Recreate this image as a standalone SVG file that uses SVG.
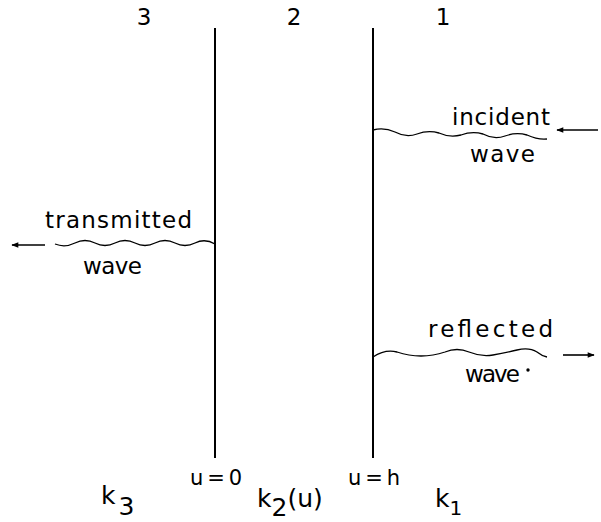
<svg xmlns="http://www.w3.org/2000/svg" width="601" height="522" viewBox="0 0 601 522">
<defs>
<style>
text{font-family:"DejaVu Sans","Liberation Sans",sans-serif;fill:#000}
.lbl{font-size:23px}
.t{font-size:23px}
.s{font-size:21px}
.k{font-size:25px}
.line{stroke:#000;stroke-width:2;fill:none}
.wave{stroke:#000;stroke-width:1.3;fill:none}
.arr{stroke:#000;stroke-width:1.6;fill:none}
</style>
<marker id="ah" viewBox="0 0 10 10" refX="9" refY="5" markerWidth="10" markerHeight="7" orient="auto" markerUnits="userSpaceOnUse">
<path d="M0,1 L10,5 L0,9 Z" fill="#000"/>
</marker>
</defs>
<rect width="601" height="522" fill="#fff"/>
<g id="boundaries">
<line class="line" x1="215" y1="28" x2="215" y2="458"/>
<line class="line" x1="373" y1="28" x2="373" y2="458"/>
</g>
<g id="regions">
<text class="lbl" x="144" y="25" text-anchor="middle">3</text>
<text class="lbl" x="294" y="25" text-anchor="middle">2</text>
<text class="lbl" x="443" y="25" text-anchor="middle">1</text>
</g>
<g id="transmitted">
<text class="t" x="45" y="228" textLength="147" lengthAdjust="spacing">transmitted</text>
<text class="t" x="83" y="274" textLength="59" lengthAdjust="spacing">wave</text>
</g>
<g id="incident">
<text class="t" x="452" y="125" textLength="98" lengthAdjust="spacing">incident</text>
<text class="t" x="470" y="162" textLength="65" lengthAdjust="spacing">wave</text>
</g>
<g id="reflected">
<text class="t" x="428" y="337" textLength="125" lengthAdjust="spacing">reflected</text>
<text class="t" x="465" y="382" textLength="55" lengthAdjust="spacing">wave</text>
<circle cx="528" cy="370" r="1.7" fill="#000"/>
</g>
<g id="connectors">
<path class="wave" d="M215,244 Q205,238 195,243 Q185,248 175,243 Q165,238 155,243 Q145,248 135,243 Q125,238 115,243 Q105,248 95,243 Q85,238 75,243 Q65,248 55,244"/>
<line class="arr" x1="45" y1="245" x2="12" y2="245" marker-end="url(#ah)"/>
<path class="wave" d="M373,130 Q384,127 395,132 Q406,138 417,134 Q428,130 439,133 Q450,138 461,135 Q472,131 483,134 Q494,140 505,136 Q516,132 527,135 Q538,140 547,139"/>
<line class="arr" x1="598" y1="130" x2="557" y2="130" marker-end="url(#ah)"/>
<path class="wave" d="M373,357 Q385,349 397,352 Q409,356 421,356 Q433,356 445,352 Q457,347 469,352 Q481,357 493,355 Q505,353 517,350 Q529,347 537,352 Q542,356 547,357"/>
<line class="arr" x1="563" y1="355" x2="594" y2="355" marker-end="url(#ah)"/>
</g>
<g id="bottom-labels">
<text class="s" x="190" y="485" textLength="52" lengthAdjust="spacing">u=0</text>
<text class="s" x="348" y="485" textLength="52" lengthAdjust="spacing">u=h</text>
<text class="k" x="101" y="504">k<tspan dx="3" dy="11">3</tspan></text>
<text class="k" x="257" y="507">k<tspan dy="9">2</tspan><tspan dy="-9">(u)</tspan></text>
<text class="k" x="435" y="507">k<tspan dy="8" font-size="20">1</tspan></text>
</g>
</svg>
